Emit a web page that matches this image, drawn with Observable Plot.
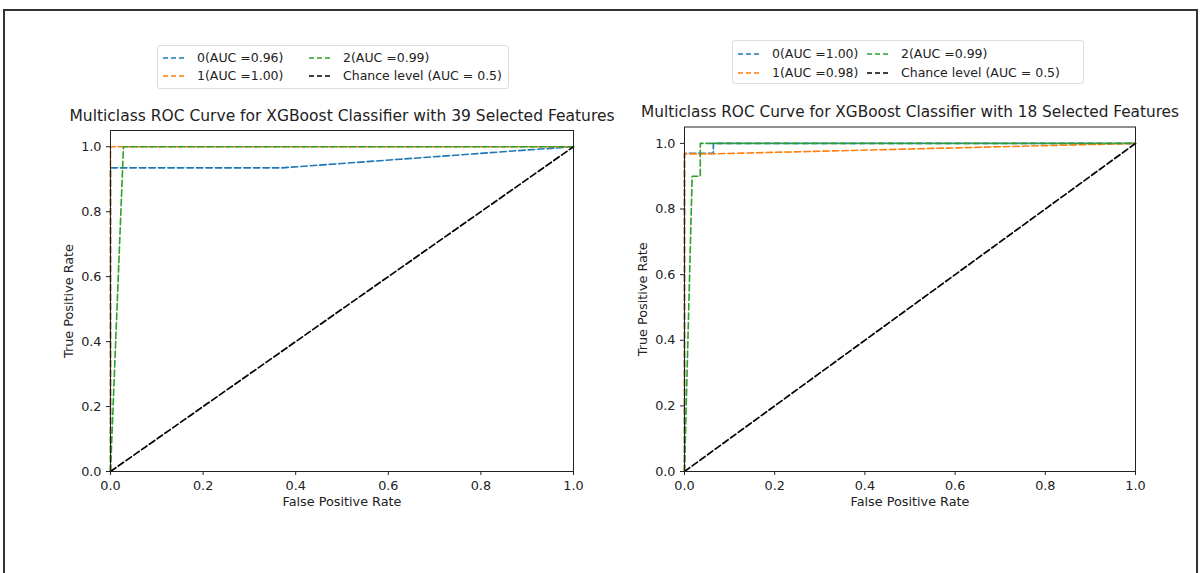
<!DOCTYPE html>
<html>
<head>
<meta charset="utf-8">
<script src="https://cdn.jsdelivr.net/npm/d3@7"></script>
<script src="https://cdn.jsdelivr.net/npm/@observablehq/plot@0.6"></script>
<style>
  html, body { margin: 0; padding: 0; background: #fff; }
  body { width: 1201px; height: 573px; overflow: hidden; position: relative; font-family: "DejaVu Sans", sans-serif; color: #222; }
  .frame { position: absolute; left: 3px; top: 9px; width: 1195px; height: 620px; border: 2px solid #333; box-sizing: border-box; }
  .panel { position: absolute; }
  .title { position: absolute; white-space: nowrap; transform: translateX(-50%); color: #222; }
  .legend { position: absolute; border: 1px solid #ddd; border-radius: 3px; box-sizing: border-box; background: #fff; }
  .item { position: absolute; font-size: 12.5px; white-space: nowrap; display: flex; align-items: center; }
  .item svg { margin-right: 10px; }
</style>
</head>
<body>
<div class="frame"></div>
<div id="app"></div>
<script>
// ---- data: left panel (39 selected features) ----
const leftFpr0 = [0, 0, 0.37, 0.9, 1];
const leftTpr0 = [0, 0.935, 0.935, 0.99, 1];
const leftFpr1 = [0, 0, 1];
const leftTpr1 = [0, 1, 1];
const leftFpr2 = [0, 0.028, 1];
const leftTpr2 = [0, 1, 1];
// ---- data: right panel (18 selected features) ----
const rightFpr0 = [0, 0, 0.064, 0.064, 1];
const rightTpr0 = [0, 0.97, 0.97, 1, 1];
const rightFpr1 = [0, 0, 0.06, 1];
const rightTpr1 = [0, 0.968, 0.968, 1];
const rightFpr2 = [0, 0.017, 0.035, 0.035, 1];
const rightTpr2 = [0, 0.9, 0.9, 1, 1];
// chance line
const chanceFpr = [0, 1];
const chanceTpr = [0, 1];

const classNames = ["0", "1", "2"];
const leftAuc = ["0.96", "1.00", "0.99"];
const rightAuc = ["1.00", "0.98", "0.99"];
const chanceLabel = "Chance level (AUC = 0.5)";
const titles = [
  "Multiclass ROC Curve for XGBoost Classifier with 39 Selected Features",
  "Multiclass ROC Curve for XGBoost Classifier with 18 Selected Features"
];
const tickValues = [0, 0.2, 0.4, 0.6, 0.8, 1.0];
const xLabel = "False Positive Rate";
const yLabel = "True Positive Rate";

const colors = ["#1f77b4", "#ff7f0e", "#2ca02c"];
const dash = "6.5,3";

function toRows(fpr, tpr) { return fpr.map((f, i) => ({fpr: f, tpr: tpr[i]})); }

function makePanel(series, opts) {
  const marks = [];
  series.forEach((s, i) => {
    marks.push(Plot.line(toRows(s[0], s[1]), {x: "fpr", y: "tpr", stroke: colors[i], strokeWidth: 1.6, strokeDasharray: dash}));
  });
  marks.push(Plot.line(toRows(chanceFpr, chanceTpr), {x: "fpr", y: "tpr", stroke: "#000", strokeWidth: 1.7, strokeDasharray: dash}));
  marks.push(Plot.axisX({ticks: tickValues, tickFormat: d3.format(".1f"), tickSize: 4, label: xLabel, labelAnchor: "center", labelArrow: "none", labelOffset: 34}));
  marks.push(Plot.axisY({ticks: tickValues, tickFormat: d3.format(".1f"), tickSize: 4, label: yLabel, labelAnchor: "center", labelArrow: "none", labelOffset: 47}));
  marks.push(Plot.frame({stroke: "#222", strokeWidth: 1}));
  return Plot.plot({
    width: opts.width, height: opts.height,
    marginLeft: opts.ml, marginRight: opts.mr, marginTop: opts.mt, marginBottom: opts.mb,
    x: {domain: [0, 1]},
    y: {domain: [0, 1.05]},
    style: {fontFamily: "DejaVu Sans", fontSize: "12.8px", color: "#222", background: "transparent", overflow: "visible"},
    marks
  });
}

const app = document.getElementById("app");

function place(el, left, top) {
  const d = document.createElement("div");
  d.className = "panel";
  d.style.left = left + "px"; d.style.top = top + "px";
  d.appendChild(el);
  app.appendChild(d);
}

const leftPlot = makePanel(
  [[leftFpr0, leftTpr0], [leftFpr1, leftTpr1], [leftFpr2, leftTpr2]],
  {width: 540, height: 400, ml: 60, mr: 17, mt: 10, mb: 49}
);
place(leftPlot, 50, 120);

const rightPlot = makePanel(
  [[rightFpr0, rightTpr0], [rightFpr1, rightTpr1], [rightFpr2, rightTpr2]],
  {width: 540, height: 404, ml: 60, mr: 29, mt: 10.5, mb: 49}
);
place(rightPlot, 624, 116);

function addTitle(text, cx, cy, size) {
  const t = document.createElement("div");
  t.className = "title";
  t.textContent = text;
  t.style.left = cx + "px";
  t.style.top = (cy - 10) + "px";
  t.style.fontSize = size + "px";
  app.appendChild(t);
}
addTitle(titles[0], 342, 117, 15.5);
addTitle(titles[1], 910, 113, 15.3);

function swatch(color) {
  const ns = "http://www.w3.org/2000/svg";
  const s = document.createElementNS(ns, "svg");
  s.setAttribute("width", 24); s.setAttribute("height", 8);
  const l = document.createElementNS(ns, "line");
  l.setAttribute("x1", 0); l.setAttribute("x2", 24); l.setAttribute("y1", 4); l.setAttribute("y2", 4);
  l.setAttribute("stroke", color); l.setAttribute("stroke-width", 1.6);
  l.setAttribute("stroke-dasharray", "5,3");
  s.appendChild(l);
  return s;
}

function addLegend(left, top, width, height, aucs, col2x, row1y, row2y) {
  const box = document.createElement("div");
  box.className = "legend";
  box.style.left = left + "px"; box.style.top = top + "px";
  box.style.width = width + "px"; box.style.height = height + "px";
  const entries = [
    {c: colors[0], t: classNames[0] + "(AUC =" + aucs[0] + ")", x: 5, y: row1y},
    {c: colors[1], t: classNames[1] + "(AUC =" + aucs[1] + ")", x: 5, y: row2y},
    {c: colors[2], t: classNames[2] + "(AUC =" + aucs[2] + ")", x: col2x, y: row1y},
    {c: "#000", t: chanceLabel, x: col2x, y: row2y}
  ];
  entries.forEach(e => {
    const it = document.createElement("div");
    it.className = "item";
    it.style.left = e.x + "px";
    it.style.top = (e.y - 8) + "px";
    it.appendChild(swatch(e.c));
    const sp = document.createElement("span");
    sp.textContent = e.t;
    it.appendChild(sp);
    box.appendChild(it);
  });
  app.appendChild(box);
}
addLegend(157, 45, 352, 44, leftAuc, 151, 12, 30);
addLegend(732, 40, 352, 44, rightAuc, 134, 13, 32);
</script>
</body>
</html>
